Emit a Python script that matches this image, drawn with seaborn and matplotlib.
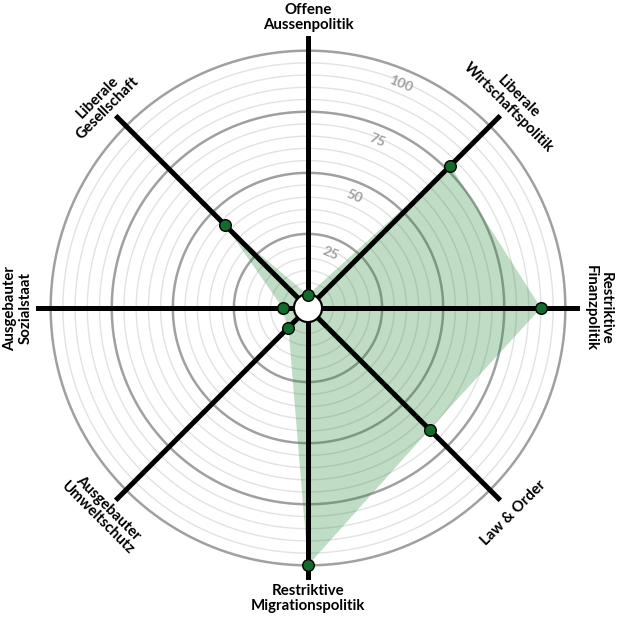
import numpy as np
import matplotlib
matplotlib.use("Agg")
import matplotlib.pyplot as plt
import seaborn as sns

# smartspider data, clockwise from the top
categories = ["Offene\nAussenpolitik", "Liberale\nWirtschaftspolitik", "Restriktive\nFinanzpolitik",
              "Law & Order", "Restriktive\nMigrationspolitik", "Ausgebauter\nUmweltschutz",
              "Ausgebauter\nSozialstaat", "Liberale\nGesellschaft"]
values = [0, 77, 90, 65, 100, 6, 5, 43]
ring_ticks = [25, 50, 75, 100]

sns.set_style("white")
plt.rcParams["font.family"] = ["Lato", "DejaVu Sans"]

fig = plt.figure(figsize=(6.17, 6.17), dpi=100)
ax = fig.add_axes([36 / 617, 37 / 617, 544 / 617, 544 / 617], projection="polar")
ax.set_theta_zero_location("N")
ax.set_theta_direction(-1)
ax.set_rorigin(-5.33)
ax.set_ylim(0, 106)
ax.axis("off")

n = len(categories)
theta = np.arange(n) * 2 * np.pi / n
circ = np.linspace(0, 2 * np.pi, 400)

# thin rings every 5, bold rings every 25
for r in range(5, 101, 5):
    if r in ring_ticks:
        ax.plot(circ, np.full_like(circ, r), color="#a0a0a0", lw=1.8, zorder=1)
    else:
        ax.plot(circ, np.full_like(circ, r), color="#e2e2e2", lw=1.0, zorder=1)

# filled area
ax.fill(np.append(theta, theta[0]), values + values[:1], color="#2e8b3e", alpha=0.3, lw=0, zorder=2)

# spokes
for t in theta:
    ax.plot([t, t], [0, 106], color="black", lw=3.6, solid_capstyle="round", zorder=3)

# centre hole
ax.fill(circ, np.zeros_like(circ), facecolor="white", edgecolor="black", lw=3.0, zorder=4)

sns.scatterplot(x=theta, y=values, ax=ax, s=70, color="#136b2b", edgecolor="black",
                linewidth=1.0, zorder=5, clip_on=False)

# ring labels
for r in ring_ticks:
    ax.text(np.deg2rad(22.5), r - 6, str(r), color="#a0a0a0", fontsize=10, fontweight="bold",
            rotation=-22.5, ha="center", va="center", rotation_mode="anchor")

# category labels, tangential and readable
for t, lab in zip(theta, categories):
    rot = (-np.rad2deg(t) + 180) % 360 - 180
    if rot == -180:
        rot = 0
    if rot > 90:
        rot -= 180
    elif rot < -90:
        rot += 180
    ax.text(t, 113.5, lab, fontsize=10.8, fontweight="bold", color="black", rotation=rot,
            ha="center", va="center", rotation_mode="anchor", linespacing=1.1, clip_on=False)

fig.savefig("out.png", dpi=100)
